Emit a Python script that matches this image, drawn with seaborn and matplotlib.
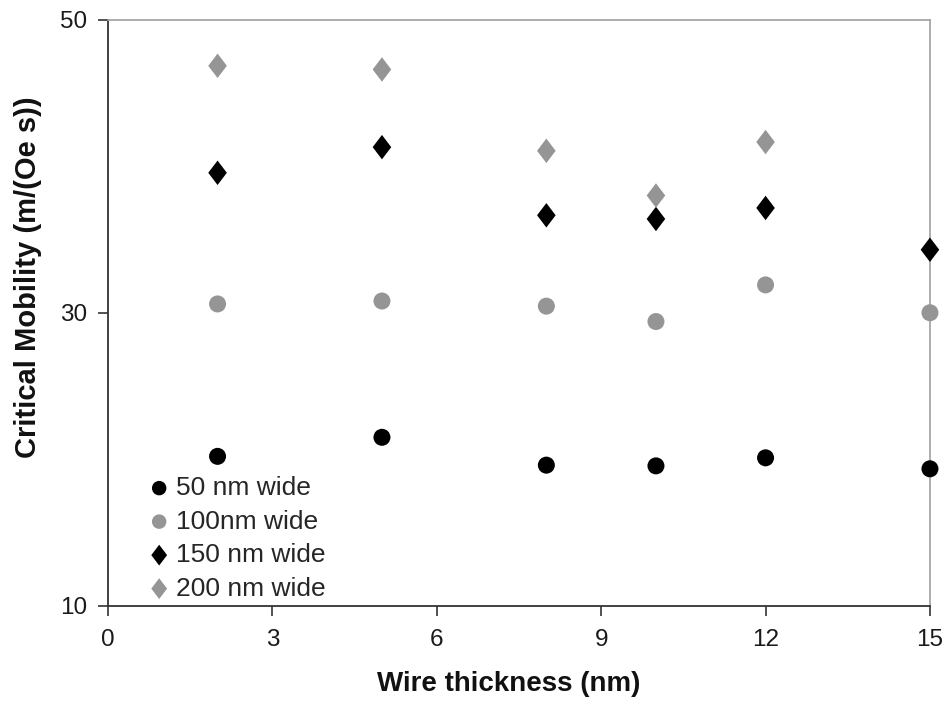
import numpy as np
import pandas as pd
import matplotlib
matplotlib.use("Agg")
import matplotlib.pyplot as plt
from matplotlib.path import Path
import seaborn as sns

thickness_small = [2, 5, 8, 10, 12, 15]
thickness_200 = [2, 5, 8, 10, 12]
w50 = [20.2, 21.5, 19.6, 19.55, 20.1, 19.35]
w100 = [30.6, 30.8, 30.45, 29.4, 31.9, 30.0]
w150 = [39.55, 41.3, 36.65, 36.4, 37.15, 34.3]
w200 = [46.85, 46.6, 41.05, 38.0, 41.65]
labels = ["50 nm wide", "100nm wide", "150 nm wide", "200 nm wide"]

frames = []
for lab, xs, ys in zip(labels, [thickness_small] * 3 + [thickness_200], [w50, w100, w150, w200]):
    frames.append(pd.DataFrame({"x": xs, "y": ys, "series": lab}))
df = pd.concat(frames, ignore_index=True)

sns.set_style("white")
plt.rcParams['font.family'] = ['Liberation Sans', 'DejaVu Sans']

fig = plt.figure(figsize=(9.47, 7.02), dpi=100)
ax = fig.add_axes([0.114, 0.137, 0.868, 0.835])

diamond = Path([(0, 1), (0.76, 0), (0, -1), (-0.76, 0), (0, 1)],
               [Path.MOVETO, Path.LINETO, Path.LINETO, Path.LINETO, Path.CLOSEPOLY])

palette = {labels[0]: "#000000", labels[1]: "#959595", labels[2]: "#000000", labels[3]: "#959595"}
markers = {labels[0]: "o", labels[1]: "o", labels[2]: diamond, labels[3]: diamond}
sizes = {labels[0]: 150, labels[1]: 150, labels[2]: 310, labels[3]: 310}

for lab in labels:
    sub = df[df.series == lab]
    sns.scatterplot(data=sub, x="x", y="y", color=palette[lab], marker=markers[lab],
                    s=sizes[lab], edgecolor="none", linewidth=0, label=lab, ax=ax,
                    clip_on=False, zorder=3)

ax.set_xlim(0, 15)
ax.set_ylim(10, 50)
ax.set_xticks([0, 3, 6, 9, 12, 15])
ax.set_yticks([10, 30, 50])
ax.tick_params(axis="both", labelsize=17.5, length=7, width=1.2, color="#333333",
               labelcolor="#1a1a1a", direction="out", left=True, bottom=True)
ax.tick_params(axis="x", pad=10)
ax.tick_params(axis="y", pad=8)
for s in ["left", "bottom"]:
    ax.spines[s].set_color("#333333")
    ax.spines[s].set_linewidth(1.3)
for s in ["top", "right"]:
    ax.spines[s].set_color("#a0a0a0")
    ax.spines[s].set_linewidth(1.2)

ax.set_xlabel("Wire thickness (nm)", fontsize=20, fontweight="bold", color="#111111")
ax.set_ylabel("Critical Mobility (m/(Oe s))", fontsize=21, fontweight="bold", color="#111111")
ax.xaxis.set_label_coords(0.488, -0.112)
ax.yaxis.set_label_coords(-0.08, 0.56)

leg = ax.legend(loc="lower left", bbox_to_anchor=(0.027, -0.018), frameon=False,
                fontsize=19, handletextpad=0.12, labelspacing=0.36, borderaxespad=0.2,
                markerscale=0.85, handlelength=1.0)

fig.savefig("out.png", dpi=100, facecolor="white")
